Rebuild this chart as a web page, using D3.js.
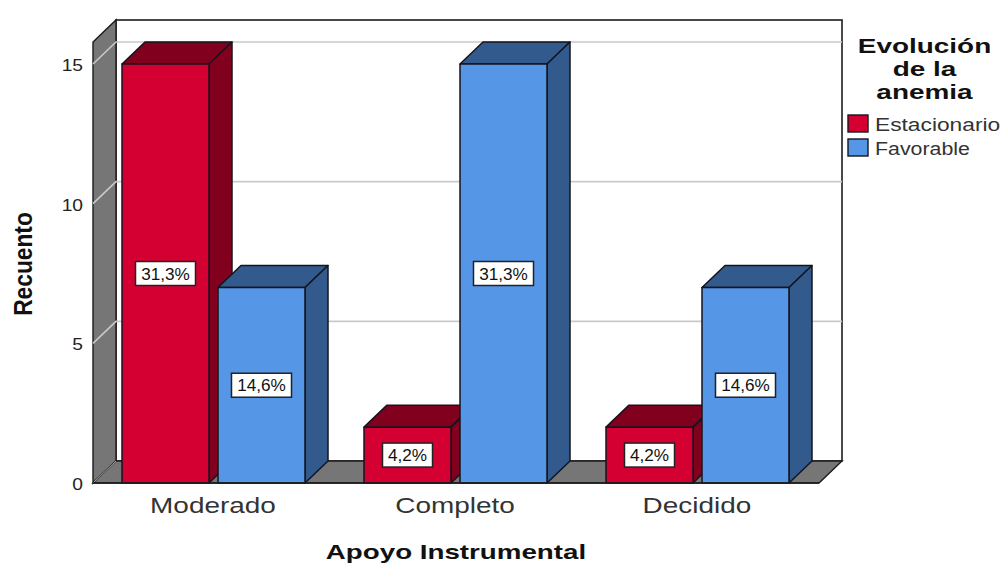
<!DOCTYPE html>
<html lang="es">
<head>
<meta charset="utf-8">
<script src="https://cdn.jsdelivr.net/npm/d3@7"></script>
<style>
  html, body { margin: 0; padding: 0; background: #fff; }
  svg { display: block; }
  text { font-family: "Liberation Sans", Arial, sans-serif; }
</style>
</head>
<body>
<svg id="chart" width="1001" height="563"></svg>
<script>
const categories = ["Moderado", "Completo", "Decidido"];
const seriesNames = ["Estacionario", "Favorable"];
const estacionario = [15, 2, 2];
const favorable = [7, 15, 7];
const estacionarioLabels = ["31,3%", "4,2%", "4,2%"];
const favorableLabels = ["14,6%", "31,3%", "14,6%"];
const yTicks = [0, 5, 10, 15];
const legendTitle = ["Evolución", "de la", "anemia"];

const palette = {
  Estacionario: { front: "#d50032", shade: "#80001e" },
  Favorable: { front: "#5596e6", shade: "#335a8c" }
};
const wallFill = "#767676";
const gridColor = "#c9c9c9";
const edge = "#1c1c1c";

const depth = { x: 23, y: 22 };
const plot = { left: 93, right: 820, bottom: 483, top: 42 };

const svg = d3.select("#chart");

const y = d3.scaleLinear().domain([0, 15]).range([plot.bottom, 64]);
const x = d3.scaleBand().domain(categories).range([92.5, 818.5]);
const inner = d3.scaleBand().domain(seriesNames)
  .range([0, 183]).paddingInner(9 / 96).paddingOuter(0);
const groupOffset = (x.bandwidth() - 183) / 2;

const poly = (pts) => pts.map(p => p.join(",")).join(" ");

// Widens a text to the extended proportions used across the chart.
function stretch(sel, factor) {
  sel.each(function (d) {
    const f = typeof factor === "function" ? factor(d) : factor;
    const len = this.getComputedTextLength();
    d3.select(this).attr("textLength", len * f).attr("lengthAdjust", "spacingAndGlyphs");
  });
  return sel;
}

// Back panel of the 3D frame
svg.append("rect")
  .attr("x", plot.left + depth.x).attr("y", 20)
  .attr("width", plot.right - plot.left - 1).attr("height", plot.bottom - depth.y - 20)
  .attr("fill", "#fff").attr("stroke", edge).attr("stroke-width", 1.6);

// Left wall and floor
svg.append("polygon")
  .attr("points", poly([[plot.left, plot.top], [plot.left + depth.x, 20],
    [plot.left + depth.x, plot.bottom - depth.y], [plot.left, plot.bottom]]))
  .attr("fill", wallFill).attr("stroke", edge).attr("stroke-width", 1.4);
svg.append("polygon")
  .attr("points", poly([[plot.left, plot.bottom], [plot.left + depth.x, plot.bottom - depth.y],
    [plot.right + depth.x - 1, plot.bottom - depth.y], [plot.right - 1, plot.bottom]]))
  .attr("fill", wallFill).attr("stroke", edge).attr("stroke-width", 1.4);

// Gridlines run along the back panel and fold down the left wall
const grid = svg.append("g").attr("fill", "none").attr("stroke", gridColor).attr("stroke-width", 1.6);
yTicks.filter(t => t > 0).forEach(t => {
  const yy = y(t);
  grid.append("polyline")
    .attr("points", poly([[plot.left, yy], [plot.left + depth.x, yy - depth.y],
      [plot.right + depth.x - 1, yy - depth.y]]));
});
svg.append("line")
  .attr("x1", plot.left).attr("y1", plot.bottom)
  .attr("x2", plot.left + depth.x).attr("y2", plot.bottom - depth.y)
  .attr("stroke", "#a8a8a8").attr("stroke-width", 1);

// Bars: series are drawn in order so each one overlaps its neighbour's side face
const rows = [];
categories.forEach((c, i) => {
  rows.push({ cat: c, series: "Estacionario", value: estacionario[i], label: estacionarioLabels[i] });
  rows.push({ cat: c, series: "Favorable", value: favorable[i], label: favorableLabels[i] });
});

const bars = svg.append("g").selectAll("g").data(rows).join("g")
  .attr("stroke", "#14141e").attr("stroke-width", 1.5).attr("stroke-linejoin", "round");

const barX0 = d => x(d.cat) + groupOffset + inner(d.series);
const barX1 = d => barX0(d) + inner.bandwidth();

bars.append("polygon")
  .attr("fill", d => palette[d.series].shade)
  .attr("points", d => poly([[barX0(d), y(d.value)], [barX0(d) + depth.x, y(d.value) - depth.y],
    [barX1(d) + depth.x, y(d.value) - depth.y], [barX1(d), y(d.value)]]));
bars.append("polygon")
  .attr("fill", d => palette[d.series].shade)
  .attr("points", d => poly([[barX1(d), y(d.value)], [barX1(d) + depth.x, y(d.value) - depth.y],
    [barX1(d) + depth.x, y(0) - depth.y], [barX1(d), y(0)]]));
bars.append("rect")
  .attr("fill", d => palette[d.series].front)
  .attr("x", barX0).attr("y", d => y(d.value))
  .attr("width", inner.bandwidth()).attr("height", d => y(0) - y(d.value));

// Baseline in front of the floor
svg.append("line")
  .attr("x1", plot.left).attr("x2", plot.right - 1)
  .attr("y1", plot.bottom).attr("y2", plot.bottom)
  .attr("stroke", edge).attr("stroke-width", 1.6);

// Percentage labels in white boxes
const labels = svg.append("g").selectAll("g").data(rows).join("g")
  .attr("transform", d => `translate(${(barX0(d) + barX1(d)) / 2},${(y(d.value) + y(0)) / 2})`);
labels.append("rect")
  .attr("x", d => d.label.length > 4 ? -30 : -25).attr("y", -12)
  .attr("width", d => d.label.length > 4 ? 60 : 50).attr("height", 24)
  .attr("fill", "#fff").attr("stroke", "#222").attr("stroke-width", 1.5);
labels.append("text")
  .attr("text-anchor", "middle").attr("y", 6).attr("font-size", 16.5).attr("fill", "#111")
  .text(d => d.label)
  .call(stretch, 1.04);

// Value axis labels
svg.append("g").selectAll("text").data(yTicks).join("text")
  .attr("x", 83).attr("y", t => y(t) + 7).attr("text-anchor", "end")
  .attr("font-size", 16).attr("fill", "#222")
  .text(t => t)
  .call(stretch, 1.2);

// Category labels
svg.append("g").selectAll("text").data(categories).join("text")
  .attr("x", c => x(c) + x.bandwidth() / 2 - 0.5).attr("y", 513)
  .attr("text-anchor", "middle").attr("font-size", 22).attr("fill", "#333")
  .text(c => c)
  .call(stretch, 1.27);

// Axis titles
svg.append("text")
  .attr("x", 456).attr("y", 559).attr("text-anchor", "middle")
  .attr("font-size", 21).attr("font-weight", "bold").attr("fill", "#111")
  .text("Apoyo Instrumental")
  .call(stretch, 1.32);
svg.append("text")
  .attr("transform", "translate(32,264) rotate(-90)").attr("text-anchor", "middle")
  .attr("font-size", 25).attr("font-weight", "bold").attr("fill", "#111")
  .text("Recuento")
  .call(stretch, 0.91);

// Legend
svg.append("g").selectAll("text").data(legendTitle).join("text")
  .attr("x", 924.5).attr("y", (d, i) => 53 + i * 23).attr("text-anchor", "middle")
  .attr("font-size", 21).attr("font-weight", "bold").attr("fill", "#111")
  .text(d => d)
  .call(stretch, 1.33);

const legend = svg.append("g").selectAll("g").data(seriesNames).join("g")
  .attr("transform", (d, i) => `translate(848,${115 + i * 24})`);
legend.append("rect")
  .attr("width", 20).attr("height", 17)
  .attr("fill", d => palette[d].front).attr("stroke", "#14141e").attr("stroke-width", 1.4);
legend.append("text")
  .attr("x", 27).attr("y", 16).attr("font-size", 17.5).attr("fill", "#333")
  .text(d => d)
  .call(stretch, d => d === "Favorable" ? 1.22 : 1.3);
</script>
</body>
</html>
